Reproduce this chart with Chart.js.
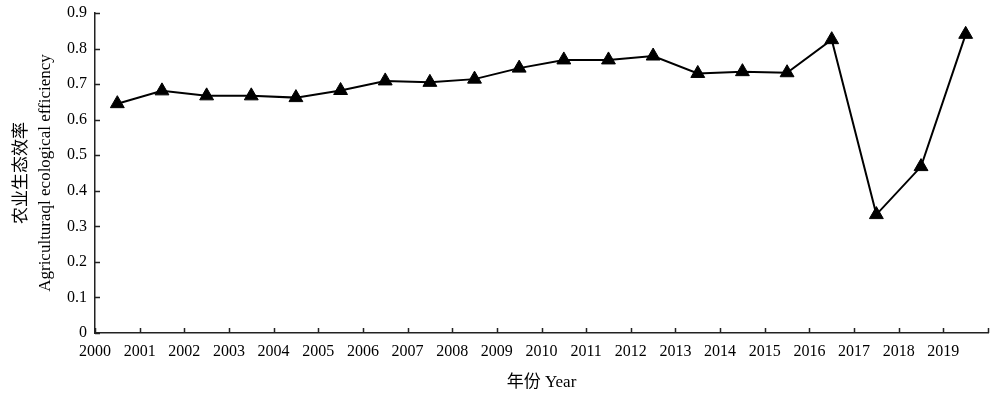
<!DOCTYPE html>
<html>
<head>
<meta charset="utf-8">
<script src="https://cdn.jsdelivr.net/npm/chart.js@4/dist/chart.umd.min.js"></script>
<style>
  html, body { margin: 0; padding: 0; background: #fff; }
  #wrap { width: 1000px; height: 394px; }
</style>
</head>
<body>
<div id="wrap"><canvas id="chart" width="1000" height="394"></canvas></div>
<script>
(() => {
  'use strict';

  // years (points sit in the middle of each year interval)
  const YEARS = [2000, 2001, 2002, 2003, 2004, 2005, 2006, 2007, 2008, 2009,
                 2010, 2011, 2012, 2013, 2014, 2015, 2016, 2017, 2018, 2019];

  // agricultural ecological efficiency
  const EFFICIENCY = [0.645, 0.681, 0.667, 0.667, 0.662, 0.682, 0.709, 0.705, 0.714, 0.745,
                      0.768, 0.768, 0.779, 0.730, 0.735, 0.732, 0.825, 0.333, 0.468, 0.840];

  // axis ranges / tick labels
  const X_MIN = 2000, X_MAX = 2020;
  const Y_TICKS = [0, 0.1, 0.2, 0.3, 0.4, 0.5, 0.6, 0.7, 0.8, 0.9];

  const Y_TITLE = ['农业生态效率', 'Agriculturaql ecological efficiency'];
  const X_TITLE = '年份 Year';

  const FONT = "'Liberation Serif', 'Times New Roman', 'Noto Sans CJK SC', serif";

  // inward tick marks on both axes
  const inwardTicks = {
    id: 'inwardTicks',
    afterDraw: (chart) => {
      const {ctx, scales: {x, y}} = chart;
      ctx.save();
      ctx.strokeStyle = '#222';
      ctx.lineWidth = 1.5;
      ctx.beginPath();
      x.ticks.forEach((t) => {
        const px = Math.round(x.getPixelForValue(t.value)) + 0.5;
        ctx.moveTo(px, x.top);
        ctx.lineTo(px, x.top - 5);
      });
      y.ticks.forEach((t) => {
        const py = Math.round(y.getPixelForValue(t.value)) + 0.5;
        ctx.moveTo(y.right, py);
        ctx.lineTo(y.right + 5, py);
      });
      ctx.stroke();
      ctx.restore();
    },
  };

  new Chart(document.getElementById('chart'), {
    type: 'line',
    data: {
      datasets: [{
        data: YEARS.map((yr, i) => ({ x: yr + 0.5, y: EFFICIENCY[i] })),
        borderColor: '#000',
        borderWidth: 2,
        backgroundColor: '#000',
        pointStyle: 'triangle',
        pointRadius: 8,
        pointBorderWidth: 1,
        pointBackgroundColor: '#000',
        pointBorderColor: '#000',
        tension: 0,
        fill: false,
      }],
    },
    options: {
      responsive: false,
      animation: false,
      events: [],
      layout: { padding: { top: 13, right: 12, left: 0, bottom: 0 } },
      plugins: {
        legend: { display: false },
        tooltip: { enabled: false },
      },
      scales: {
        x: {
          type: 'linear',
          min: X_MIN,
          max: X_MAX,
          afterFit: (s) => { s.height = 61; },
          grid: { display: false, drawTicks: false },
          border: { display: true, color: '#222', width: 1.5 },
          ticks: {
            stepSize: 1,
            autoSkip: false,
            maxRotation: 0,
            padding: 9,
            color: '#000',
            font: { family: FONT, size: 16 },
            callback: (v) => (v < X_MAX ? String(v) : ''),
          },
          title: {
            display: true,
            text: X_TITLE,
            color: '#000',
            font: { family: FONT, size: 17, lineHeight: 1.2 },
            padding: { top: 0, bottom: 1 },
          },
        },
        y: {
          type: 'linear',
          min: 0,
          max: 0.9,
          afterFit: (s) => {
            s.width = 95;
            s.paddingTop = 0;
            s.paddingBottom = 0;
          },
          afterBuildTicks: (s) => { s.ticks = Y_TICKS.map((v) => ({ value: v })); },
          grid: { display: false, drawTicks: false },
          border: { display: true, color: '#222', width: 1.5 },
          ticks: {
            padding: 8,
            color: '#000',
            font: { family: FONT, size: 16 },
            callback: (v) => (v === 0 ? '0' : v.toFixed(1)),
          },
          title: {
            display: true,
            text: Y_TITLE,
            color: '#000',
            font: { family: FONT, size: 17, lineHeight: 1.4 },
            padding: { top: 10, bottom: 0 },
          },
        },
      },
    },
    plugins: [inwardTicks],
  });
})();
</script>
</body>
</html>
